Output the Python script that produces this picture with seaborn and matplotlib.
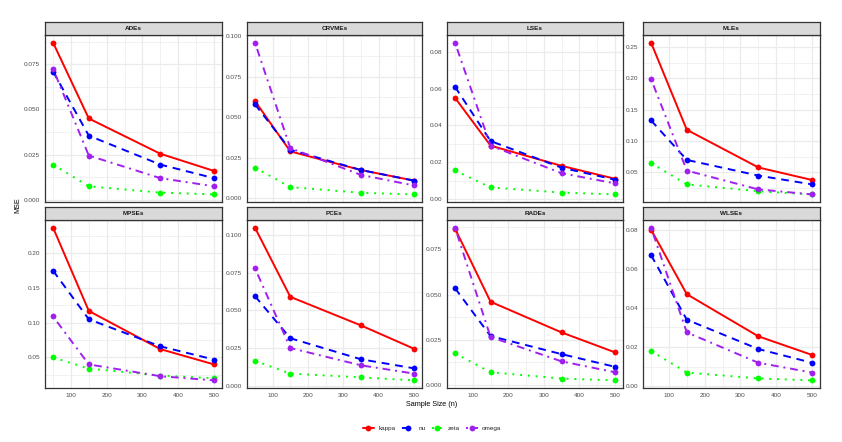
import numpy as np
import pandas as pd
import matplotlib
matplotlib.use("Agg")
import matplotlib.pyplot as plt
from matplotlib.lines import Line2D
from matplotlib.ticker import AutoMinorLocator, FixedLocator
import seaborn as sns

# sample sizes on the x axis
sample_sizes = [50, 150, 350, 500]
params = ["kappa", "nu", "zeta", "omega"]
methods = ["ADEs", "CRVMEs", "LSEs", "MLEs", "MPSEs", "PCEs", "RADEs", "WLSEs"]

# MSE values, one dict per estimation method
ADEs = {"kappa": [0.087, 0.045, 0.0255, 0.016],
        "nu": [0.071, 0.0355, 0.0195, 0.012],
        "zeta": [0.0195, 0.0075, 0.004, 0.003],
        "omega": [0.0725, 0.0245, 0.012, 0.0075]}
CRVMEs = {"kappa": [0.060, 0.029, 0.0175, 0.011],
          "nu": [0.058, 0.030, 0.0175, 0.011],
          "zeta": [0.019, 0.007, 0.0035, 0.0025],
          "omega": [0.096, 0.031, 0.0145, 0.008]}
LSEs = {"kappa": [0.055, 0.029, 0.018, 0.011],
        "nu": [0.061, 0.0315, 0.017, 0.0105],
        "zeta": [0.0155, 0.0063, 0.0035, 0.0025],
        "omega": [0.085, 0.029, 0.014, 0.0085]}
MLEs = {"kappa": [0.257, 0.118, 0.058, 0.038],
        "nu": [0.133, 0.070, 0.045, 0.031],
        "zeta": [0.065, 0.031, 0.020, 0.015],
        "omega": [0.199, 0.053, 0.023, 0.015]}
MPSEs = {"kappa": [0.237, 0.117, 0.062, 0.040],
         "nu": [0.175, 0.105, 0.066, 0.047],
         "zeta": [0.050, 0.034, 0.024, 0.020],
         "omega": [0.109, 0.040, 0.023, 0.017]}
PCEs = {"kappa": [0.105, 0.059, 0.040, 0.0245],
        "nu": [0.0595, 0.0315, 0.0175, 0.0115],
        "zeta": [0.0165, 0.008, 0.0055, 0.0035],
        "omega": [0.078, 0.025, 0.0135, 0.008]}
RADEs = {"kappa": [0.0865, 0.046, 0.029, 0.018],
         "nu": [0.0535, 0.027, 0.017, 0.010],
         "zeta": [0.0175, 0.007, 0.0035, 0.0025],
         "omega": [0.087, 0.0265, 0.013, 0.007]}
WLSEs = {"kappa": [0.080, 0.047, 0.0255, 0.016],
         "nu": [0.067, 0.034, 0.019, 0.012],
         "zeta": [0.018, 0.007, 0.004, 0.003],
         "omega": [0.081, 0.0275, 0.012, 0.007]}

# y tick labels per panel
y_ticks = {"ADEs": ["0.000", "0.025", "0.050", "0.075"],
           "CRVMEs": ["0.000", "0.025", "0.050", "0.075", "0.100"],
           "LSEs": ["0.00", "0.02", "0.04", "0.06", "0.08"],
           "MLEs": ["0.05", "0.10", "0.15", "0.20", "0.25"],
           "MPSEs": ["0.05", "0.10", "0.15", "0.20"],
           "PCEs": ["0.000", "0.025", "0.050", "0.075", "0.100"],
           "RADEs": ["0.000", "0.025", "0.050", "0.075"],
           "WLSEs": ["0.00", "0.02", "0.04", "0.06", "0.08"]}
x_ticks = [100, 200, 300, 400, 500]

tables = {"ADEs": ADEs, "CRVMEs": CRVMEs, "LSEs": LSEs, "MLEs": MLEs,
          "MPSEs": MPSEs, "PCEs": PCEs, "RADEs": RADEs, "WLSEs": WLSEs}

rows = []
for m in methods:
    for p in params:
        for n, v in zip(sample_sizes, tables[m][p]):
            rows.append({"method": m, "param": p, "n": n, "mse": v})
df = pd.DataFrame(rows)

palette = {"kappa": "#FF0000", "nu": "#0000FF", "zeta": "#00FF00", "omega": "#A020F0"}
dashes = {"kappa": "", "nu": (4, 3), "zeta": (1, 3), "omega": (1, 2.5, 4, 2.5)}
markers = {p: "o" for p in params}

sns.set_style("white")
plt.rcParams["font.family"] = ["Liberation Sans", "DejaVu Sans"]

W, H = 842, 442
fig = plt.figure(figsize=(W / 100, H / 100), dpi=100)

col_x = [(45, 222), (247, 422), (447, 623), (643, 820)]
row_y = [(22, 35, 202), (207, 220, 388)]  # strip top, panel top, panel bottom

dark = "#333333"
for i, m in enumerate(methods):
    r, c = divmod(i, 4)
    x0, x1 = col_x[c]
    st, pt, pb = row_y[r]
    ax = fig.add_axes([x0 / W, 1 - pb / H, (x1 - x0) / W, (pb - pt) / H])
    sub = df[df["method"] == m]
    sns.lineplot(data=sub, x="n", y="mse", hue="param", style="param",
                 hue_order=params, style_order=params, palette=palette,
                 dashes=dashes, markers=markers, markersize=4.2,
                 markeredgewidth=0, linewidth=1.4, legend=False, ax=ax)
    # ggplot-like expansion
    lo, hi = sub["mse"].min(), sub["mse"].max()
    pad = (hi - lo) * 0.05
    ax.set_ylim(lo - pad, hi + pad)
    ax.set_xlim(50 - 22.5, 500 + 22.5)
    labs = [t for t in y_ticks[m] if lo - pad <= float(t) <= hi + pad]
    ax.yaxis.set_major_locator(FixedLocator([float(t) for t in labs]))
    ax.set_yticklabels(labs)
    ax.set_xticks(x_ticks)
    if r == 0:
        ax.set_xticklabels([])
    ax.xaxis.set_minor_locator(AutoMinorLocator(2))
    ax.yaxis.set_minor_locator(AutoMinorLocator(2))
    ax.grid(which="major", color="#EBEBEB", linewidth=0.9)
    ax.grid(which="minor", color="#EBEBEB", linewidth=0.5)
    ax.set_axisbelow(True)
    ax.tick_params(axis="both", which="major", labelsize=4.6, colors=dark,
                   labelcolor="#4D4D4D", length=2, width=0.6, pad=1.5)
    ax.tick_params(which="minor", length=0)
    for s in ax.spines.values():
        s.set_edgecolor(dark)
        s.set_linewidth(0.9)
    ax.set_xlabel("")
    ax.set_ylabel("")
    # strip
    sax = fig.add_axes([x0 / W, 1 - pt / H, (x1 - x0) / W, (pt - st) / H])
    sax.set_facecolor("#D9D9D9")
    sax.set_xticks([])
    sax.set_yticks([])
    for s in sax.spines.values():
        s.set_edgecolor(dark)
        s.set_linewidth(0.9)
    sax.text(0.5, 0.5, m, ha="center", va="center", fontsize=4.6,
             fontweight="bold", color="#1A1A1A", transform=sax.transAxes)

fig.text(18 / W, 1 - 205 / H, "MSE", rotation=90, ha="center", va="center",
         fontsize=5.2, color="black")
fig.text(432 / W, 1 - 405 / H, "Sample Size (n)", ha="center", va="center",
         fontsize=5.2, color="black")

handles = []
for p in params:
    h = Line2D([0], [0], color=palette[p], linewidth=1.4,
               marker="o", markersize=4.2, markeredgewidth=0)
    if dashes[p]:
        h.set_dashes(dashes[p])
    handles.append(h)
fig.legend(handles, params, loc="center", bbox_to_anchor=(432 / W, 1 - 428 / H),
           ncol=4, frameon=False, fontsize=4.6, handlelength=1.8,
           columnspacing=1.0, handletextpad=0.7)

fig.savefig("out.png", dpi=100)
